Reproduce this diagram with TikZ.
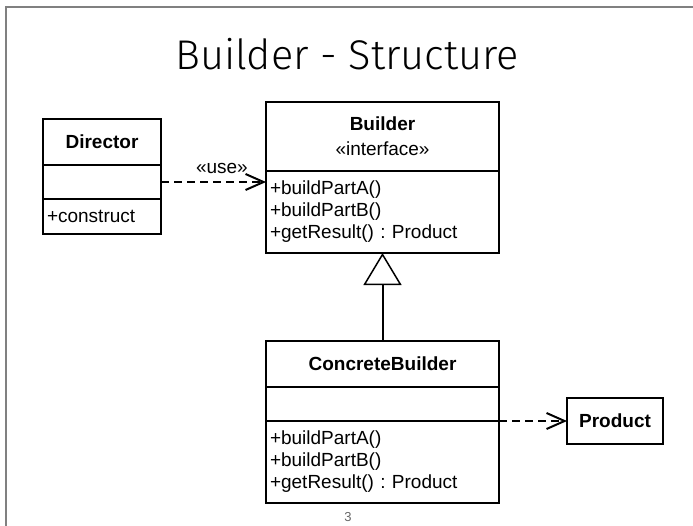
\documentclass[tikz,border=0pt]{standalone}
\usepackage{fontspec}
\setmainfont{Liberation Sans}
\newfontfamily\titlefont{Fira Sans Light}
\usepackage{tikz}
\usetikzlibrary{arrows.meta,positioning}

\frenchspacing
\newcommand{\umlfont}{\fontsize{19}{22}\selectfont}

\tikzset{
    classpart/.style={draw, line width=1.2pt, inner xsep=4pt, inner ysep=0pt, outer sep=0pt, font=\umlfont},
    namepart/.style={classpart, align=center, font=\umlfont\bfseries},
    opspart/.style={classpart, align=left},
    dep/.style={line width=2pt, dash pattern=on 8pt off 5pt,
        -{Straight Barb[length=18pt,width=16pt,line width=2pt]}},
    inherit/.style={line width=2pt, -{Triangle[open,length=32pt,width=38pt,line width=1.5pt]}},
}

\begin{document}
\begin{tikzpicture}[x=1pt,y=-1pt]
    \useasboundingbox (0,0) rectangle (693,525);
    % slide frame
    \draw[line width=2pt, gray] (5.5,540) |- (710,6.5);
    \node[font=\titlefont\fontsize{41.5}{48}\selectfont] (title) at (347,54) {Builder - Structure};

    % Director
    \node[namepart, text width=110pt, minimum height=46pt, anchor=north west] (dirname) at (43,119) {Director};
    \node[classpart, text width=110pt, minimum height=34pt, below=0pt of dirname] (dirattr) {};
    \node[opspart, text width=110pt, minimum height=35pt, below=0pt of dirattr] (dirops) {+construct};

    % Builder
    \node[namepart, text width=225pt, minimum height=69pt, anchor=north west] (bname) at (266,102) {Builder\\[3pt]\mdseries «interface»};
    \node[opspart, text width=225pt, minimum height=82pt, below=0pt of bname] (bops) {+buildPartA()\\+buildPartB()\\+getResult() : Product};

    % ConcreteBuilder
    \node[namepart, text width=225pt, minimum height=46pt, anchor=north west] (cbname) at (266,341) {ConcreteBuilder};
    \node[classpart, text width=225pt, minimum height=34pt, below=0pt of cbname] (cbattr) {};
    \node[opspart, text width=225pt, minimum height=82pt, below=0pt of cbattr] (cbops) {+buildPartA()\\+buildPartB()\\+getResult() : Product};

    % Product
    \node[namepart, minimum width=96pt, minimum height=46pt] (prod) at (615,421) {Product};

    \draw[dep] (dirattr.east) -- (dirattr.east -| bops.west)
        node[pos=0.58, above=7pt, inner sep=0pt, font=\umlfont] (uselabel) {«use»};
    \draw[dep] (cbattr.south east) -- (cbattr.south east -| prod.west);
    \draw[inherit] (cbname.north) -- (bops.south);

    \node[font=\fontsize{13}{15}\selectfont, text=black!60] (pagenum) at (348,517) {3};
\end{tikzpicture}
\end{document}
